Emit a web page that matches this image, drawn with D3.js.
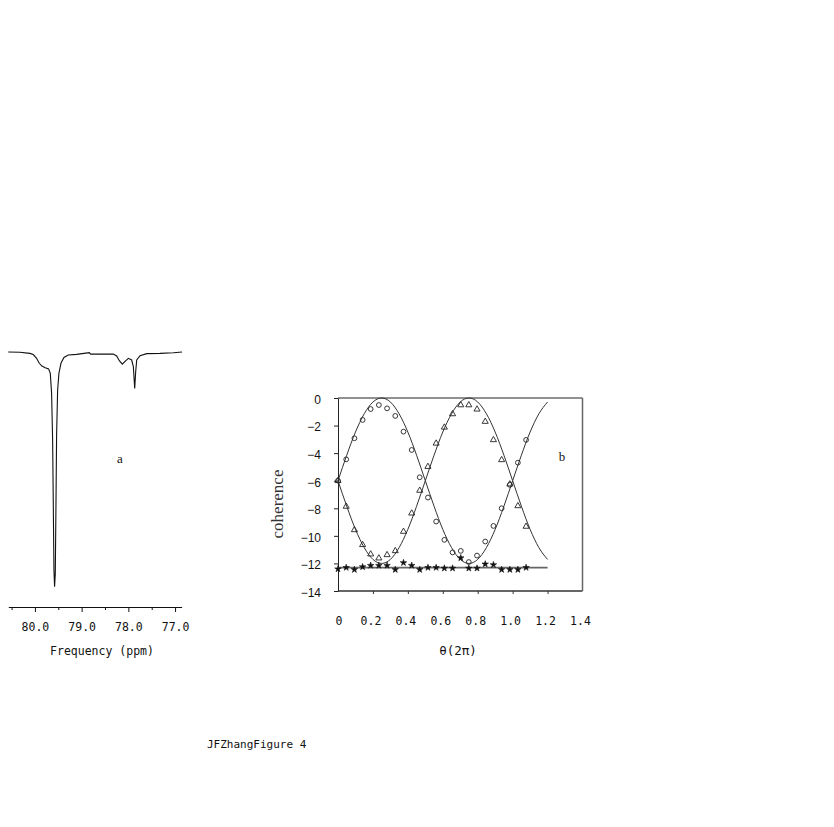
<!DOCTYPE html>
<html>
<head>
<meta charset="utf-8">
<title>JFZhang Figure 4</title>
<script src="https://cdn.jsdelivr.net/npm/d3@7"></script>
<style>
  html, body { margin: 0; padding: 0; background: #fff; }
  svg { display: block; }
</style>
</head>
<body>
<div id="figure"></div>
<script>
// ---------------------------------------------------
// DATA — panel a (NMR spectrum, ppm vs relative intensity)
// ---------------------------------------------------
const specPpm = [80.571, 80.321, 80.107, 80.036, 79.964, 79.907, 79.85, 79.779, 79.707, 79.671,
  79.643, 79.621, 79.607, 79.593, 79.579, 79.564, 79.55, 79.536, 79.514, 79.486,
  79.443, 79.379, 79.286, 79.107, 78.836, 78.807, 78.607, 78.321, 78.25, 78.193,
  78.129, 78.071, 78.0, 77.929, 77.893, 77.864, 77.843, 77.821, 77.75, 77.607,
  77.321, 77.036, 76.85];
const specIntensity = [0, -0.1, -0.6, -1.1, -2.7, -4.8, -6.0, -6.7, -7.2, -9.1,
  -17.6, -37.4, -64.4, -92.8, -99.9, -94.2, -65.8, -35.3, -16.2, -9.1,
  -4.8, -2.3, -1.3, -1.0, -0.3, -0.9, -0.9, -0.9, -1.7, -3.7,
  -5.2, -4.0, -2.7, -3.4, -6.2, -15.5, -8.4, -3.4, -1.6, -0.7,
  -0.6, -0.3, 0];
const ppmMajorTicks = [80, 79, 78, 77];
const ppmMinorTicks = [80.5, 79.5, 78.5, 77.5];

// ---------------------------------------------------
// DATA — panel b (coherence vs theta in units of 2π)
// ---------------------------------------------------
const thetaPts = [0, 0.047, 0.094, 0.141, 0.187, 0.234, 0.281, 0.328, 0.375, 0.422, 0.468, 0.515,
  0.562, 0.609, 0.656, 0.703, 0.749, 0.796, 0.843, 0.890, 0.937, 0.984, 1.030, 1.077];
const circleVals = [-6.0, -4.45, -2.92, -1.59, -0.8, -0.51, -0.75, -1.3, -2.44, -3.77, -5.75, -7.22,
  -8.96, -10.29, -11.2, -11.09, -11.9, -11.43, -10.41, -9.28, -8.0, -6.3, -4.69, -3.04];
const triangleVals = [-6.0, -7.87, -9.57, -10.65, -11.33, -11.62, -11.38, -11.09, -9.69, -8.36, -6.71, -4.98,
  -3.29, -2.13, -1.16, -0.51, -0.51, -0.82, -1.71, -3.04, -4.49, -6.25, -7.83, -9.32];
const starVals = [-12.4, -12.3, -12.45, -12.25, -12.15, -12.15, -12.15, -12.45, -11.95, -12.15, -12.45, -12.3,
  -12.3, -12.35, -12.35, -11.6, -12.35, -12.35, -12.05, -12.1, -12.45, -12.45, -12.45, -12.3];

// fitted curves (step 0.05 in theta)
const fitTheta = [0, 0.05, 0.1, 0.15, 0.2, 0.25, 0.3, 0.35, 0.4, 0.45, 0.5, 0.55, 0.6,
  0.65, 0.7, 0.75, 0.8, 0.85, 0.9, 0.95, 1.0, 1.05, 1.1, 1.15, 1.2];
const fitCircle = [-6, -4.15, -2.47, -1.15, -0.29, 0, -0.29, -1.15, -2.47, -4.15, -6, -7.85, -9.53,
  -10.85, -11.71, -12, -11.71, -10.85, -9.53, -7.85, -6, -4.15, -2.47, -1.15, -0.29];
const fitTriangle = [-6, -7.85, -9.53, -10.85, -11.71, -12, -11.71, -10.85, -9.53, -7.85, -6, -4.15, -2.47,
  -1.15, -0.29, 0, -0.29, -1.15, -2.47, -4.15, -6, -7.85, -9.53, -10.85, -11.71];
const baselineTheta = [0, 1.2];
const baselineVal = [-12.3, -12.3];

const thetaTicks = [0, 0.2, 0.4, 0.6, 0.8, 1.0, 1.2, 1.4];
const coherenceTicks = [-14, -12, -10, -8, -6, -4, -2, 0];

// ---------------------------------------------------
// SVG CANVAS
// ---------------------------------------------------
const width = 834;
const height = 827;

const svg = d3.select("#figure")
  .append("svg")
  .attr("width", width)
  .attr("height", height);

svg.append("rect")
  .attr("width", width)
  .attr("height", height)
  .attr("fill", "#fff");

const monoFont = "'DejaVu Sans Mono', 'Liberation Mono', monospace";
const serifFont = "'Liberation Serif', 'DejaVu Serif', serif";
const sansFont = "'Liberation Sans', Arial, sans-serif";

// ===================================================
// PANEL A — SPECTRUM
// ===================================================
const xa = d3.scaleLinear()
  .domain([80.57, 76.86])
  .range([8.3, 181.6]);

const ya = d3.scaleLinear()
  .domain([-100, 0])
  .range([587, 352]);

const gA = svg.append("g").attr("class", "panel-a");

const specLine = d3.line()
  .x(d => xa(d[0]))
  .y(d => ya(d[1]));

gA.append("path")
  .datum(d3.zip(specPpm, specIntensity))
  .attr("fill", "none")
  .attr("stroke", "#111")
  .attr("stroke-width", 1.1)
  .attr("d", specLine);

// bottom axis: major + minor ticks
const axisA = gA.append("g")
  .attr("transform", "translate(0,607)")
  .call(d3.axisBottom(xa)
    .tickValues(ppmMajorTicks)
    .tickSize(5)
    .tickSizeOuter(0)
    .tickPadding(11)
    .tickFormat(d3.format(".1f")));

axisA.attr("font-family", monoFont).attr("font-size", 11.5);
axisA.selectAll("text").attr("fill", "#111");
axisA.selectAll("line, path").attr("stroke", "#111");

gA.append("g")
  .attr("transform", "translate(0,607)")
  .call(d3.axisBottom(xa)
    .tickValues(ppmMinorTicks)
    .tickSize(3)
    .tickFormat(""))
  .call(g => g.select(".domain").remove())
  .selectAll("line").attr("stroke", "#111");

gA.append("text")
  .attr("x", 102)
  .attr("y", 655)
  .attr("text-anchor", "middle")
  .attr("font-family", monoFont)
  .attr("font-size", 11.5)
  .attr("fill", "#111")
  .text("Frequency (ppm)");

gA.append("text")
  .attr("x", 120)
  .attr("y", 463)
  .attr("text-anchor", "middle")
  .attr("font-family", serifFont)
  .attr("font-size", 13)
  .attr("fill", "#111")
  .text("a");

// ===================================================
// PANEL B — COHERENCE VS THETA
// ===================================================
const xb = d3.scaleLinear()
  .domain([0, 1.4])
  .range([338, 582.5]);

const yb = d3.scaleLinear()
  .domain([-14, 0])
  .range([591, 398]);

const gB = svg.append("g").attr("class", "panel-b");

// frame: dark top/left, grey heavier bottom/right
gB.append("line")
  .attr("x1", xb(0)).attr("x2", xb(1.4))
  .attr("y1", yb(0)).attr("y2", yb(0))
  .attr("stroke", "#222").attr("stroke-width", 1);
gB.append("line")
  .attr("x1", xb(1.4)).attr("x2", xb(1.4))
  .attr("y1", yb(0)).attr("y2", yb(-14))
  .attr("stroke", "#666").attr("stroke-width", 1.5);
gB.append("line")
  .attr("x1", xb(0)).attr("x2", xb(1.4))
  .attr("y1", yb(-14)).attr("y2", yb(-14))
  .attr("stroke", "#666").attr("stroke-width", 1.8);

// left axis
const axisL = gB.append("g")
  .attr("transform", `translate(${xb(0)},0)`)
  .call(d3.axisLeft(yb)
    .tickValues(coherenceTicks)
    .tickSize(4)
    .tickSizeOuter(0)
    .tickPadding(13)
    .tickFormat(d => d === 0 ? "0" : "\u2212" + Math.abs(d)));
axisL.attr("font-family", sansFont).attr("font-size", 12);
axisL.selectAll("text").attr("fill", "#111").attr("dy", "0.45em");
axisL.selectAll("line, path").attr("stroke", "#222");

// bottom ticks
gB.append("g")
  .attr("transform", `translate(0,${yb(-14)})`)
  .call(d3.axisBottom(xb)
    .tickValues(thetaTicks.slice(1, -1))
    .tickSize(3)
    .tickFormat(""))
  .call(g => g.select(".domain").remove())
  .selectAll("line").attr("stroke", "#333");

// bottom tick labels (set lower than usual, as in the original)
gB.selectAll(".theta-label")
  .data(thetaTicks)
  .join("text")
  .attr("class", "theta-label")
  .attr("x", d => xb(d) - (d === 0 ? -1 : 2))
  .attr("y", 625)
  .attr("text-anchor", "middle")
  .attr("font-family", monoFont)
  .attr("font-size", 11.5)
  .attr("fill", "#111")
  .text(d => d === 0 ? "0" : d3.format(".1f")(d));

// axis titles
gB.append("text")
  .attr("transform", "translate(283,504) rotate(-90)")
  .attr("text-anchor", "middle")
  .attr("font-family", serifFont)
  .attr("font-size", 17)
  .attr("fill", "#333")
  .text("coherence");

gB.append("text")
  .attr("x", 458)
  .attr("y", 655)
  .attr("text-anchor", "middle")
  .attr("font-family", monoFont)
  .attr("font-size", 12.5)
  .attr("fill", "#111")
  .text("\u03b8(2\u03c0)");

gB.append("text")
  .attr("x", 562)
  .attr("y", 461)
  .attr("text-anchor", "middle")
  .attr("font-family", serifFont)
  .attr("font-size", 13)
  .attr("fill", "#111")
  .text("b");

// fitted curves
const fitLine = d3.line()
  .x(d => xb(d[0]))
  .y(d => yb(d[1]))
  .curve(d3.curveMonotoneX);

[fitCircle, fitTriangle].forEach(vals => {
  gB.append("path")
    .datum(d3.zip(fitTheta, vals))
    .attr("fill", "none")
    .attr("stroke", "#333")
    .attr("stroke-width", 1)
    .attr("d", fitLine);
});

gB.append("path")
  .datum(d3.zip(baselineTheta, baselineVal))
  .attr("fill", "none")
  .attr("stroke", "#666")
  .attr("stroke-width", 1.8)
  .attr("d", fitLine);

// markers: open circles
gB.selectAll(".pt-circle")
  .data(d3.zip(thetaPts, circleVals))
  .join("circle")
  .attr("class", "pt-circle")
  .attr("cx", d => xb(d[0]))
  .attr("cy", d => yb(d[1]))
  .attr("r", 2.4)
  .attr("fill", "none")
  .attr("stroke", "#222")
  .attr("stroke-width", 0.9);

// markers: open triangles
const triSym = d3.symbol().type(d3.symbolTriangle).size(16);
gB.selectAll(".pt-tri")
  .data(d3.zip(thetaPts, triangleVals))
  .join("path")
  .attr("class", "pt-tri")
  .attr("transform", d => `translate(${xb(d[0])},${yb(d[1])})`)
  .attr("d", triSym)
  .attr("fill", "none")
  .attr("stroke", "#222")
  .attr("stroke-width", 0.9);

// markers: small filled stars on the flat line
const starSym = d3.symbol().type(d3.symbolStar).size(13);
gB.selectAll(".pt-star")
  .data(d3.zip(thetaPts, starVals))
  .join("path")
  .attr("class", "pt-star")
  .attr("transform", d => `translate(${xb(d[0])},${yb(d[1])})`)
  .attr("d", starSym)
  .attr("fill", "#111")
  .attr("stroke", "#111")
  .attr("stroke-width", 0.6);

// ===================================================
// FIGURE CAPTION
// ===================================================
svg.append("text")
  .attr("x", 207)
  .attr("y", 748)
  .attr("font-family", monoFont)
  .attr("font-size", 11)
  .attr("fill", "#111")
  .text("JFZhangFigure 4");
</script>
</body>
</html>
